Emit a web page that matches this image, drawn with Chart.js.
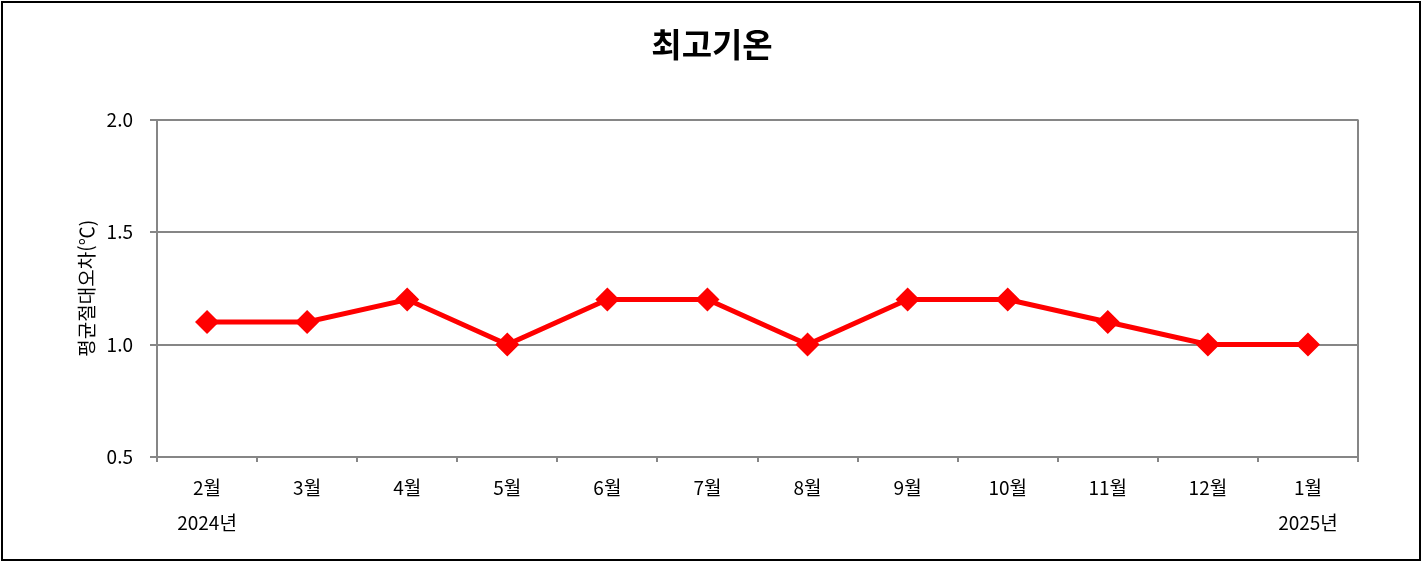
<!DOCTYPE html>
<html lang="ko">
<head>
<meta charset="utf-8">
<script src="https://cdn.jsdelivr.net/npm/chart.js@4.4.1/dist/chart.umd.min.js"></script>
<style>
  html, body { margin: 0; padding: 0; background: #fff; }
  #wrap { width: 1422px; height: 563px; }
</style>
</head>
<body>
<div id="wrap"><canvas id="chart"></canvas></div>
<script>
// 데이터
const months = ['2월', '3월', '4월', '5월', '6월', '7월', '8월', '9월', '10월', '11월', '12월', '1월'];
const years = ['2024년', '', '', '', '', '', '', '', '', '', '', '2025년'];
const maeValues = [1.1, 1.1, 1.2, 1.0, 1.2, 1.2, 1.0, 1.2, 1.2, 1.1, 1.0, 1.0];
const yTicks = [0.5, 1.0, 1.5, 2.0];

const fontFamily = "'Noto Sans CJK KR', 'Noto Sans', sans-serif";
const gridColor = '#868686';

// 배경, 바깥 테두리, 오른쪽 축 테두리
const framePlugin = {
    id: 'frame',
    beforeDraw(chart) {
        const ctx = chart.ctx;
        ctx.save();
        ctx.fillStyle = '#ffffff';
        ctx.fillRect(0, 0, chart.width, chart.height);
        ctx.restore();
    },
    afterDraw(chart) {
        const ctx = chart.ctx;
        const area = chart.chartArea;
        ctx.save();
        ctx.strokeStyle = gridColor;
        ctx.lineWidth = 2;
        ctx.beginPath();
        ctx.moveTo(area.right, area.top);
        ctx.lineTo(area.right, area.bottom + 5);
        ctx.stroke();
        ctx.strokeStyle = '#000000';
        ctx.lineWidth = 2;
        ctx.strokeRect(2, 2, chart.width - 4, chart.height - 5);
        ctx.restore();
    }
};

const ctx = document.getElementById('chart').getContext('2d');
new Chart(ctx, {
    type: 'line',
    data: {
        labels: months.map((m, i) => [m, years[i]]),
        datasets: [{
            label: '최고기온',
            data: maeValues,
            borderColor: '#ff0000',
            backgroundColor: '#ff0000',
            borderWidth: 5,
            pointStyle: 'rectRot',
            pointRadius: 8.5,
            pointHoverRadius: 8.5,
            tension: 0
        }]
    },
    options: {
        responsive: true,
        maintainAspectRatio: false,
        animation: false,
        layout: {
            padding: { top: 0, left: 66, right: 64, bottom: 0 }
        },
        plugins: {
            legend: { display: false },
            tooltip: { enabled: false },
            title: {
                display: true,
                text: '최고기온',
                color: '#000',
                font: { family: fontFamily, size: 33, weight: 'bold' },
                padding: { top: 25, bottom: 55 }
            }
        },
        scales: {
            x: {
                offset: true,
                afterFit(axis) {
                    axis.height = 106;
                },
                grid: {
                    offset: true,
                    drawOnChartArea: false,
                    color: gridColor,
                    lineWidth: 2,
                    tickLength: 5
                },
                border: { color: gridColor, width: 2 },
                ticks: {
                    color: '#000',
                    font: { family: fontFamily, size: 19, lineHeight: 1.85 },
                    padding: 8,
                    maxRotation: 0,
                    autoSkip: false
                }
            },
            y: {
                min: 0.5,
                max: 2.0,
                afterFit(axis) {
                    axis.width = 91;
                },
                afterBuildTicks(axis) {
                    axis.ticks = yTicks.map(v => ({ value: v }));
                },
                grid: {
                    color: gridColor,
                    lineWidth: 2,
                    tickLength: 7
                },
                border: { color: gridColor, width: 2 },
                ticks: {
                    color: '#000',
                    font: { family: fontFamily, size: 19 },
                    padding: 17,
                    callback: v => Number(v).toFixed(1)
                },
                title: {
                    display: true,
                    text: '평균절대오차(℃)',
                    color: '#000',
                    font: { family: fontFamily, size: 19 },
                    padding: { top: 9 }
                }
            }
        }
    },
    plugins: [framePlugin]
});
</script>
</body>
</html>
